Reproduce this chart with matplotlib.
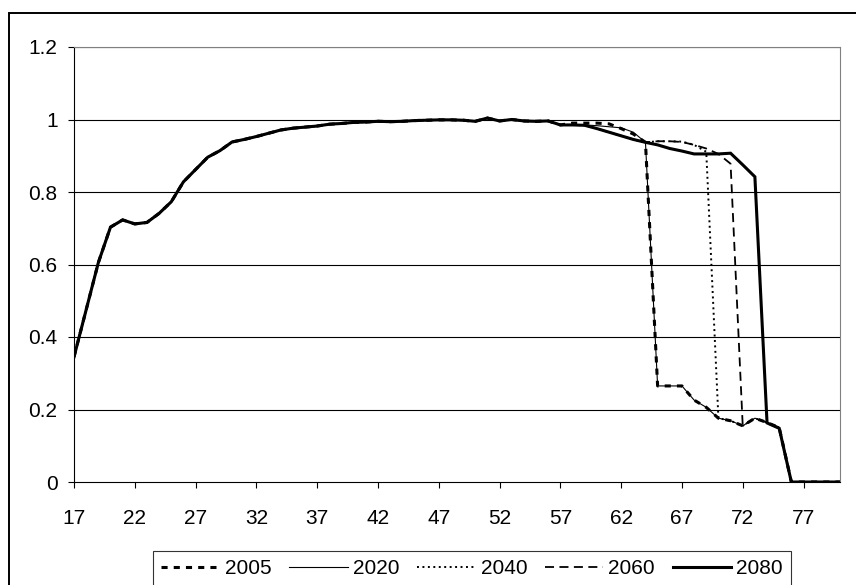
import matplotlib
matplotlib.use("Agg")
import matplotlib.pyplot as plt
from matplotlib.patches import Rectangle

plt.rcParams['font.family'] = ['Liberation Sans', 'DejaVu Sans']

# ages on the category axis
ages = list(range(17, 81))

# part shared by all scenarios, ages 17..57
base = [0.345, 0.475, 0.605, 0.703, 0.723, 0.712, 0.716, 0.741, 0.773, 0.828,
        0.862, 0.896, 0.914, 0.938, 0.945, 0.953, 0.962, 0.971, 0.976, 0.979,
        0.982, 0.987, 0.989, 0.992, 0.993, 0.995, 0.994, 0.995, 0.997, 0.998,
        0.999, 0.999, 0.998, 0.995, 1.004, 0.996, 1.000, 0.996, 0.995, 0.996,
        0.985]

# scenario tails, ages 58..80
tail_2005 = [0.990, 0.990, 0.990, 0.988, 0.975, 0.960, 0.937, 0.265, 0.265, 0.265,
             0.226, 0.206, 0.176, 0.169, 0.155, 0.176, 0.164, 0.150, 0, 0, 0, 0, 0]
tail_2020 = [0.985, 0.985, 0.983, 0.980, 0.977, 0.965, 0.937, 0.265, 0.265, 0.265,
             0.226, 0.206, 0.176, 0.169, 0.155, 0.176, 0.164, 0.150, 0, 0, 0, 0, 0]
tail_2040 = [0.985, 0.984, 0.975, 0.965, 0.955, 0.945, 0.937, 0.940, 0.940, 0.939,
             0.930, 0.911, 0.176, 0.169, 0.155, 0.176, 0.164, 0.150, 0, 0, 0, 0, 0]
tail_2060 = [0.985, 0.984, 0.975, 0.965, 0.955, 0.945, 0.937, 0.940, 0.940, 0.938,
             0.930, 0.920, 0.905, 0.878, 0.155, 0.176, 0.164, 0.150, 0, 0, 0, 0, 0]
tail_2080 = [0.985, 0.984, 0.975, 0.965, 0.955, 0.945, 0.937, 0.930, 0.920, 0.913,
             0.905, 0.905, 0.905, 0.907, 0.875, 0.842, 0.163, 0.148, 0, 0, 0, 0, 0]

labels = ['2005', '2020', '2040', '2060', '2080']
tails = [tail_2005, tail_2020, tail_2040, tail_2060, tail_2080]

styles = [
    dict(lw=2.2, dashes=(2, 2)),
    dict(lw=0.8, linestyle='-'),
    dict(lw=1.4, dashes=(1, 1.8)),
    dict(lw=1.3, dashes=(5, 3)),
    dict(lw=2.2, linestyle='-'),
]

fig = plt.figure(figsize=(8.56, 5.85), dpi=100)
ax = fig.add_axes([74 / 856, 1 - 482 / 585, (840 - 74) / 856, (482 - 47) / 585])

for lab, tail, st in zip(labels, tails, styles):
    ax.plot(ages, base + tail, color='black', label=lab, solid_joinstyle='miter', **st)

ax.set_xlim(17, 80)
ax.set_ylim(0, 1.2)
ax.set_xticks(range(17, 80, 5))
yt = [0, 0.2, 0.4, 0.6, 0.8, 1.0, 1.2]
ax.set_yticks(yt)
ax.set_yticklabels([f'{v:g}' for v in yt])
for v in yt[1:]:
    ax.axhline(v, color='black', lw=0.8, zorder=0)

ax.tick_params(axis='both', direction='out', length=4.3, width=0.8, labelsize=15, color='black')
ax.tick_params(axis='x', pad=15)
ax.tick_params(axis='y', pad=7.5)

for s in ['left', 'bottom']:
    ax.spines[s].set_color('black')
    ax.spines[s].set_linewidth(0.8)
for s in ['top', 'right']:
    ax.spines[s].set_color('#808080')
    ax.spines[s].set_linewidth(0.8)

leg = fig.legend(loc='upper left', bbox_to_anchor=(153 / 856, 1 - 551 / 585), ncol=5,
                 fontsize=15, frameon=True, fancybox=False, borderaxespad=0,
                 handlelength=2.8, handletextpad=0.25, columnspacing=0.85,
                 borderpad=0.4)
leg.get_frame().set_edgecolor('black')
leg.get_frame().set_linewidth(0.8)

# chart area border, runs off the right and bottom edges
fig.patches.append(Rectangle((9 / 856, -0.1), 1.2, 0.1 + (1 - 13 / 585),
                             transform=fig.transFigure, fill=False,
                             edgecolor='black', lw=1.4))

fig.savefig('out.png', dpi=100)
